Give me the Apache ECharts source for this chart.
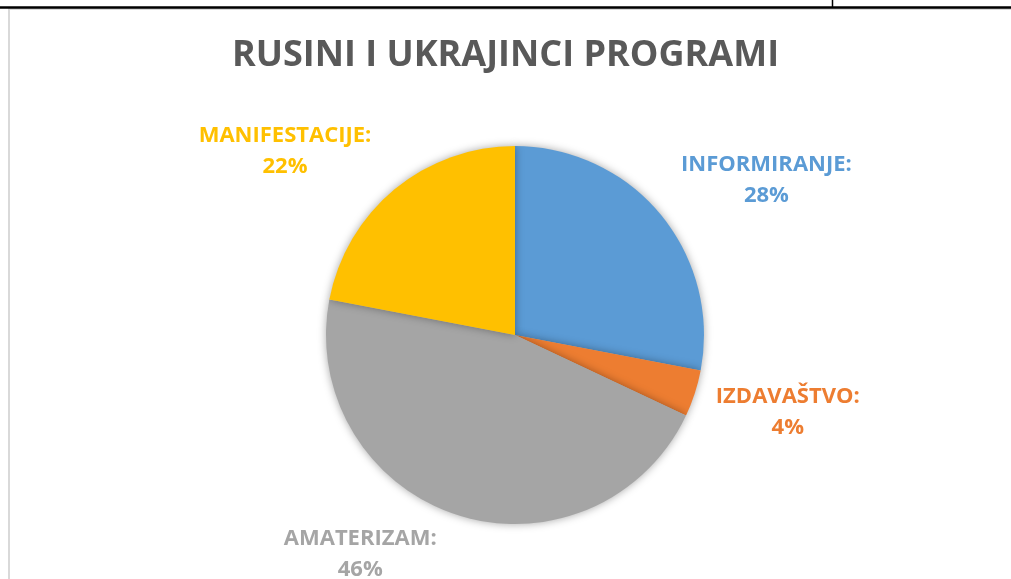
<!DOCTYPE html>
<html>
<head>
<meta charset="utf-8">
<script src="https://cdn.jsdelivr.net/npm/echarts@6/dist/echarts.min.js"></script>
<style>
html,body{margin:0;padding:0;background:#fff;}
#chart{width:1011px;height:579px;}
</style>
</head>
<body>
<div id="chart"></div>
<script>
const titleText = 'RUSINI I UKRAJINCI PROGRAMI';
const categories = ['INFORMIRANJE', 'IZDAVAŠTVO', 'AMATERIZAM', 'MANIFESTACIJE'];
const values = [28, 4, 46, 22];
const colors = ['#5B9BD5', '#ED7D31', '#A5A5A5', '#FFC000'];

// label nudges (style only) relative to ECharts' outside label anchor
const labelNudge = [[0, -9], [-20, 6], [-9, 1], [-9, -7]];

const chart = echarts.init(document.getElementById('chart'), null, {renderer: 'canvas'});
const option = {
  backgroundColor: '#ffffff',
  animation: false,
  title: {
    text: titleText,
    left: 'center',
    top: 33,
    textStyle: {fontFamily: 'Open Sans', fontWeight: 'bold', fontSize: 36, color: '#595959'}
  },
  graphic: [
    {type: 'rect', shape: {x: 9, y: 9, width: 1100, height: 700}, style: {fill: '#ffffff', stroke: '#d9d9d9', lineWidth: 2}, z: -10},
    {type: 'line', shape: {x1: 0, y1: 7.5, x2: 1011, y2: 7.5}, style: {stroke: '#000', lineWidth: 2.5}},
    {type: 'line', shape: {x1: 832.5, y1: 0, x2: 832.5, y2: 7}, style: {stroke: '#000', lineWidth: 1.5}}
  ],
  series: [{
    type: 'pie',
    center: [515, 335],
    radius: 189,
    startAngle: 90,
    clockwise: true,
    avoidLabelOverlap: false,
    data: categories.map((c, i) => ({name: c, value: values[i], itemStyle: {color: colors[i]}, label: {color: colors[i]}})),
    itemStyle: {shadowBlur: 8, shadowColor: 'rgba(0,0,0,0.35)'},
    label: {
      show: true,
      position: 'outside',
      formatter: p => p.name + ':\n' + Math.round(p.percent) + '%',
      fontFamily: 'Open Sans',
      fontWeight: 'bold',
      fontSize: 22,
      lineHeight: 31
    },
    labelLine: {show: false, length: 40, length2: 70},
    labelLayout: function (params) {
      const n = labelNudge[params.dataIndex];
      return {align: 'center', verticalAlign: 'middle', dx: n[0], dy: n[1]};
    }
  }]
};
chart.setOption(option);
</script>
</body>
</html>
